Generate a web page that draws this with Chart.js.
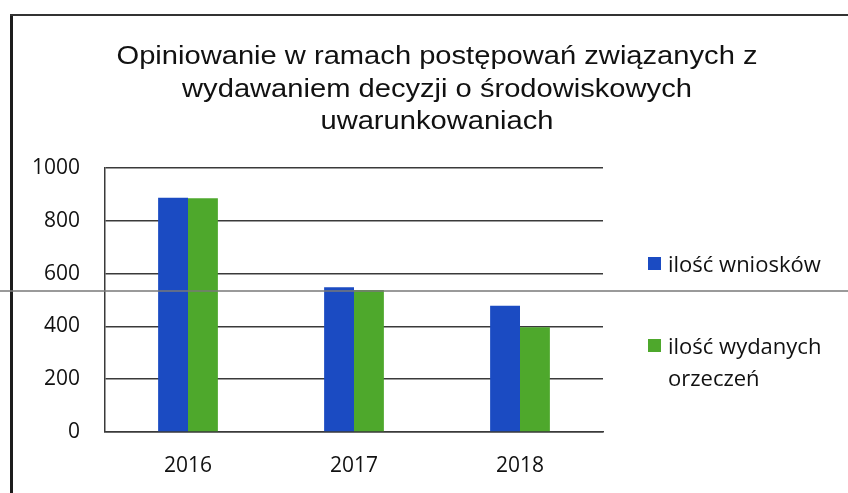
<!DOCTYPE html>
<html>
<head>
<meta charset="utf-8">
<script src="https://cdn.jsdelivr.net/npm/chart.js@4.4.1/dist/chart.umd.min.js"></script>
<style>
  html, body { margin: 0; padding: 0; background: #fff; }
  #wrap { position: relative; width: 848px; height: 493px; overflow: hidden; background: #fff; }
  #c { position: absolute; left: 0; top: 0; }
  #title {
    position: absolute; left: 0; top: 39px; width: 874px; text-align: center;
    font-family: "Liberation Sans", Arial, sans-serif; font-size: 26px; line-height: 32.5px;
    color: #111; transform: scaleX(1.12); transform-origin: 437px 0;
  }
  .frameL { position: absolute; left: 10px; top: 14px; width: 3px; height: 479px; background: #1d1d1d; }
  .frameT { position: absolute; left: 10px; top: 14px; width: 838px; height: 2px; background: #333; }
  .scanline { position: absolute; left: 0; top: 290px; width: 848px; height: 2px; background: rgba(120,120,120,0.75); }
  .lg { position: absolute; left: 648px; font-family: "Open Sans", sans-serif; font-size: 22px; line-height: 32px; color: #111; }
  .lg .box { position: absolute; left: 0; width: 13px; height: 13px; }
  .lg .txt { position: absolute; left: 20px; white-space: nowrap; }
</style>
</head>
<body>
<div id="wrap">
  <canvas id="c" width="848" height="493"></canvas>
  <div id="title">Opiniowanie w ramach postępowań związanych z<br>wydawaniem decyzji o środowiskowych<br>uwarunkowaniach</div>
  <div id="legend"></div>
  <div class="frameL"></div>
  <div class="frameT"></div>
  <div class="scanline"></div>
</div>
<script>
const categories = ['2016', '2017', '2018'];
const seriesNames = ['ilość wniosków', 'ilość wydanych orzeczeń'];
const wnioski = [887, 548, 478];
const orzeczenia = [885, 538, 397];
const yTickValues = [0, 200, 400, 600, 800, 1000];

const colors = ['#1b4bc2', '#4ea82c'];
const legendLines = [['ilość wniosków'], ['ilość wydanych', 'orzeczeń']];
const legendTops = [247, 329];

const lg = document.getElementById('legend');
seriesNames.forEach((name, i) => {
  const d = document.createElement('div');
  d.className = 'lg';
  d.style.top = legendTops[i] + 'px';
  const b = document.createElement('div');
  b.className = 'box';
  b.style.top = '10px';
  b.style.background = colors[i];
  const t = document.createElement('div');
  t.className = 'txt';
  t.innerHTML = legendLines[i].join('<br>');
  d.appendChild(b); d.appendChild(t);
  lg.appendChild(d);
});

new Chart(document.getElementById('c'), {
  type: 'bar',
  data: {
    labels: categories,
    datasets: [
      { label: seriesNames[0], data: wnioski, backgroundColor: colors[0], barPercentage: 1, categoryPercentage: 0.36 },
      { label: seriesNames[1], data: orzeczenia, backgroundColor: colors[1], barPercentage: 1, categoryPercentage: 0.36 }
    ]
  },
  options: {
    responsive: false,
    animation: false,
    devicePixelRatio: 1,
    layout: { padding: { left: 0, top: 168, right: 245, bottom: 0 } },
    plugins: { legend: { display: false }, title: { display: false }, tooltip: { enabled: false } },
    scales: {
      x: {
        grid: { display: false, drawTicks: false },
        border: { display: true, color: '#3a3a3a', width: 1.5 },
        ticks: { font: { family: 'Open Sans', size: 21 }, color: '#111', padding: 21 },
        afterFit: (s) => { s.height = 61; }
      },
      y: {
        min: 0, max: 1000,
        afterBuildTicks: (s) => { s.ticks = yTickValues.map(v => ({ value: v })); },
        grid: { color: '#3a3a3a', lineWidth: 1.5, drawTicks: false },
        border: { display: true, color: '#3a3a3a', width: 1.5 },
        ticks: { font: { family: 'Open Sans', size: 21 }, color: '#111', padding: 25, callback: (v) => String(v) },
        afterFit: (s) => { s.width = 105; }
      }
    }
  }
});
</script>
</body>
</html>
